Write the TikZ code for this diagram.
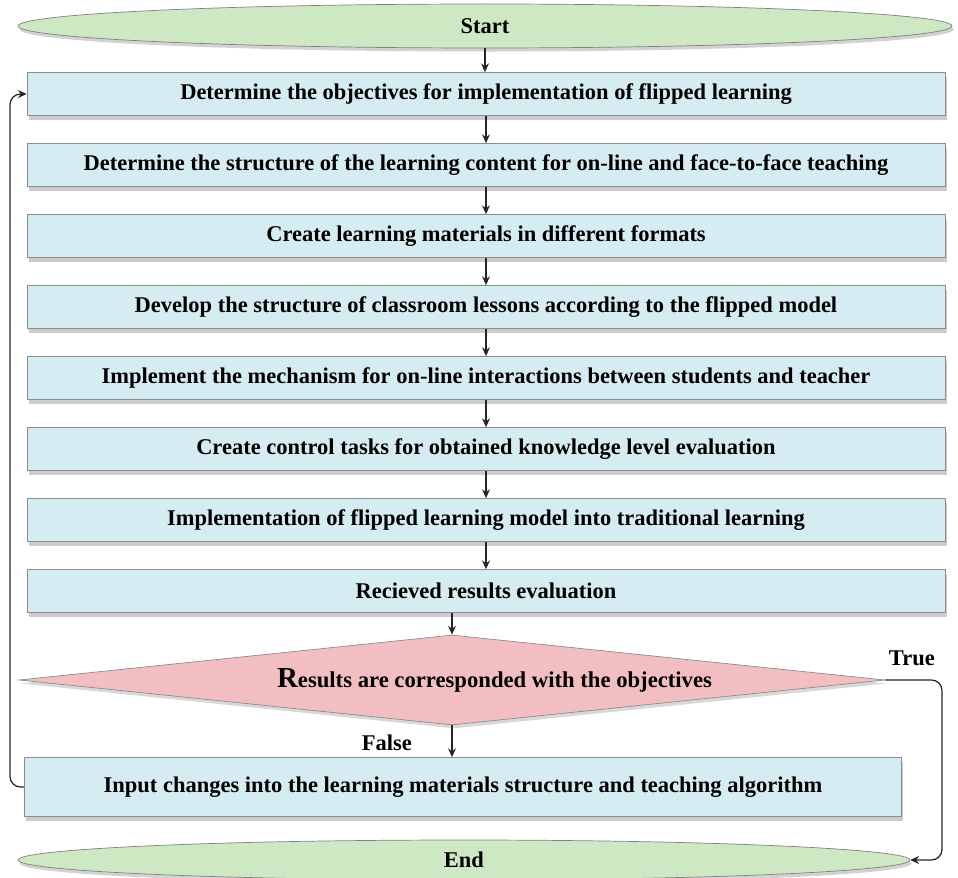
\documentclass[tikz,border=0pt]{standalone}
\usepackage{fontspec}
\setmainfont{Liberation Serif}
\usetikzlibrary{shapes.geometric,arrows.meta,shadows}
\definecolor{boxblue}{RGB}{214,236,243}
\definecolor{termgreen}{RGB}{206,232,196}
\definecolor{decpink}{RGB}{243,190,194}
\tikzset{
  stepbox/.style={draw=black!45, fill=boxblue, minimum width=18.36cm, minimum height=0.86cm,
    inner sep=0pt, font=\bfseries\fontsize{12.8}{14}\selectfont,
    drop shadow={shadow xshift=1pt, shadow yshift=-2.5pt, fill=black!40}},
  term/.style={ellipse, draw=black!50, fill=termgreen, minimum width=18.68cm, minimum height=0.88cm,
    inner sep=0pt, font=\bfseries\fontsize{12.8}{14}\selectfont,
    drop shadow={shadow xshift=1pt, shadow yshift=-2pt, fill=black!35}},
  decide/.style={diamond, aspect=9.6, draw=black!45, fill=decpink, minimum width=17.32cm, minimum height=1.8cm,
    inner sep=0pt, font=\bfseries\fontsize{12.9}{14}\selectfont,
    drop shadow={shadow xshift=1pt, shadow yshift=-2pt, fill=black!30}},
  lbl/.style={font=\bfseries\fontsize{12.8}{14}\selectfont},
  flow/.style={-{Stealth[length=5pt,width=4.5pt]}, line width=0.7pt, black!85},
}
\begin{document}
\begin{tikzpicture}[x=0.02cm,y=-0.02cm]
		%%%%% START %%%%%
		\useasboundingbox (0,0) rectangle (958,878);
		
		\node[term] (start) at (485,26) {Start};
		
		\node[stepbox] (b1) at (486,94) {Determine the objectives for implementation of flipped learning};
		\node[stepbox] (b2) at (486,165) {Determine the structure of the learning content for on-line and face-to-face teaching};
		\node[stepbox] (b3) at (486,236) {Create learning materials in different formats};
		\node[stepbox] (b4) at (486,307) {Develop the structure of classroom lessons according to the flipped model};
		\node[stepbox] (b5) at (486,378) {Implement the mechanism for on-line interactions between students and teacher};
		\node[stepbox] (b6) at (486,449) {Create control tasks for obtained knowledge level evaluation};
		\node[stepbox] (b7) at (486,520) {Implementation of flipped learning model into traditional learning};
		\node[stepbox] (b8) at (486,591) {Recieved results evaluation};
		
		\node[decide] (dec) at (452,680) {\hspace*{1.7cm}{\fontsize{16.5}{16}\selectfont R}esults are corresponded with the objectives};
		
		\node[stepbox, minimum width=17.54cm, minimum height=1.18cm] (chg) at (463,787) {Input changes into the learning materials structure and teaching algorithm};
		
		\node[term, minimum width=17.84cm, minimum height=0.8cm] (end) at (464,860) {End};
		
		\node[lbl, anchor=east] (tlbl) at (941,658) {True};
		\node[lbl, anchor=east] (flbl) at (418,743) {False};
		\coordinate (tr) at (942,680);
		\coordinate (lp) at (10,787);
		
		\draw[flow] (start.south) -- (start.south |- b1.north);
		\foreach \a/\b in {b1/b2,b2/b3,b3/b4,b4/b5,b5/b6,b6/b7,b7/b8}
			\draw[flow] (\a.south) -- (\b.north);
		\draw[flow] (dec.north |- b8.south) -- (dec.north);
		\draw[flow] (dec.south) -- (dec.south |- chg.north);
		
		\draw[flow, rounded corners=6pt] (dec.east) -- (tr) |- (end.east);
		\draw[flow, rounded corners=6pt] (chg.west) -- (lp) |- (b1.west);
		%%%%% END %%%%%
	\end{tikzpicture}
\end{document}
